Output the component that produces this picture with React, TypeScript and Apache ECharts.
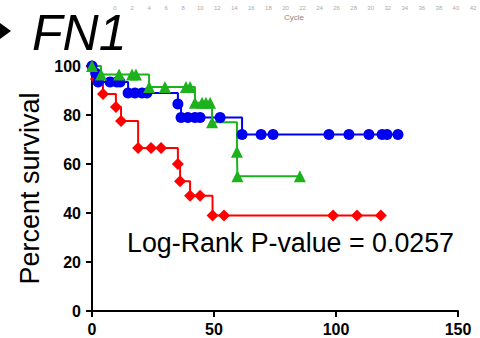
import React, { useEffect, useRef } from "react";
import * as echarts from "echarts";

// Kaplan–Meier curves: [time, percent survival] at each step / censor mark
const blueCurve: [number, number][] = [
  [0, 100], [1.5, 97], [2.5, 93.5], [7.4, 93.5], [10.2, 93.5], [11.5, 93.5],
  [14.8, 89], [17.6, 89], [20.5, 89], [22.5, 89],
  [35.2, 84.5], [36.5, 79], [39.3, 79], [42.2, 79], [44.3, 79], [52.5, 79],
  [61.5, 72], [69.3, 72], [74.2, 72], [97.1, 72], [105.3, 72], [113.5, 72],
  [118.9, 72], [120.9, 72], [125.4, 72],
];
const redCurve: [number, number][] = [
  [0, 100], [1.6, 94.7], [4.5, 88.6], [9.8, 83.3], [11.9, 77.6],
  [18.9, 66.5], [24.2, 66.5], [28.3, 66.5],
  [35.2, 60], [36.1, 53], [40.2, 47], [44.3, 47],
  [49.4, 39], [54.1, 39], [98.8, 39], [108.6, 39], [118.4, 39],
];
const greenCurve: [number, number][] = [
  [0, 100], [3.7, 96.5], [11.1, 96.5], [16.4, 96.5], [18, 96.5],
  [23.4, 91.4], [29.9, 91.4], [38.5, 91.4], [40.2, 91.4],
  [42.2, 85], [45.1, 85], [46.7, 85], [48.4, 85],
  [49.2, 77], [59.4, 65], [59.6, 55], [85.2, 55],
];

const survivalTicks = { min: 0, max: 100, interval: 20 };
const timeTicks = { min: 0, max: 150, interval: 50 };
const cycleTicks = { min: 0, max: 42, interval: 2 };

const pValueText = "Log-Rank P-value = 0.0257";
const panelLabel = "FN1";

export default function App() {
  const ref = useRef<HTMLDivElement>(null);

  useEffect(() => {
    if (!ref.current) return;
    const chart = echarts.init(ref.current, null, { renderer: "svg" });

    const curve = (
      name: string,
      data: [number, number][],
      color: string,
      symbol: string,
      symbolSize: number
    ) => ({
      name,
      type: "line",
      xAxisIndex: 0,
      yAxisIndex: 0,
      step: "end",
      data,
      symbol,
      symbolSize,
      showAllSymbol: true,
      lineStyle: { color, width: 2 },
      itemStyle: { color },
      emphasis: { disabled: true },
    });

    chart.setOption({
      animation: false,
      grid: [
        { left: 92, top: 66, width: 366, height: 245 },
        { left: 115, top: -20, width: 358, height: 19 },
      ],
      xAxis: [
        {
          type: "value",
          gridIndex: 0,
          ...timeTicks,
          axisLine: { show: true, lineStyle: { color: "#000", width: 2 } },
          axisTick: { show: true, length: 6, lineStyle: { color: "#000", width: 2 } },
          axisLabel: {
            margin: 10,
            color: "#000",
            fontSize: 16,
            fontWeight: "bold",
            fontFamily: "Liberation Sans",
          },
          splitLine: { show: false },
        },
        {
          type: "value",
          gridIndex: 1,
          ...cycleTicks,
          axisLine: { show: false },
          axisTick: { show: false },
          axisLabel: {
            margin: 1,
            color: "#aaa",
            fontSize: 6,
            fontFamily: "Liberation Sans",
          },
          splitLine: { show: false },
          name: "Cycle",
          nameLocation: "middle",
          nameGap: 10,
          nameTextStyle: { color: "#888", fontSize: 8, fontFamily: "Liberation Sans" },
        },
      ],
      yAxis: [
        {
          type: "value",
          gridIndex: 0,
          ...survivalTicks,
          axisLine: { show: true, lineStyle: { color: "#000", width: 2 } },
          axisTick: { show: true, length: 6, lineStyle: { color: "#000", width: 2 } },
          axisLabel: {
            margin: 11,
            color: "#000",
            fontSize: 16,
            fontWeight: "bold",
            fontFamily: "Liberation Sans",
          },
          splitLine: { show: false },
          name: "Percent survival",
          nameLocation: "middle",
          nameRotate: 90,
          nameGap: 41,
          nameTextStyle: { color: "#000", fontSize: 27, fontFamily: "Liberation Sans" },
        },
        { type: "value", gridIndex: 1, show: false },
      ],
      series: [
        curve("red", redCurve, "#ff0000", "diamond", 12),
        curve("blue", blueCurve, "#0000f0", "circle", 11),
        curve("green", greenCurve, "#1db21d", "triangle", 12),
      ],
      graphic: [
        {
          type: "polygon",
          shape: { points: [[0, 23], [11, 31], [0, 39]] },
          style: { fill: "#000" },
        },
        {
          type: "text",
          x: 32,
          y: 33,
          style: {
            text: panelLabel,
            font: "italic 50px 'Liberation Sans'",
            fill: "#000",
            textVerticalAlign: "middle",
          },
        },
        {
          type: "text",
          x: 127,
          y: 243,
          style: {
            text: pValueText,
            font: "26.8px 'Liberation Sans'",
            fill: "#000",
            textVerticalAlign: "middle",
          },
        },
      ],
    });

    return () => chart.dispose();
  }, []);

  return (
    <div
      ref={ref}
      style={{ position: "fixed", left: 0, top: 0, width: 480, height: 338, background: "#fff" }}
    />
  );
}
